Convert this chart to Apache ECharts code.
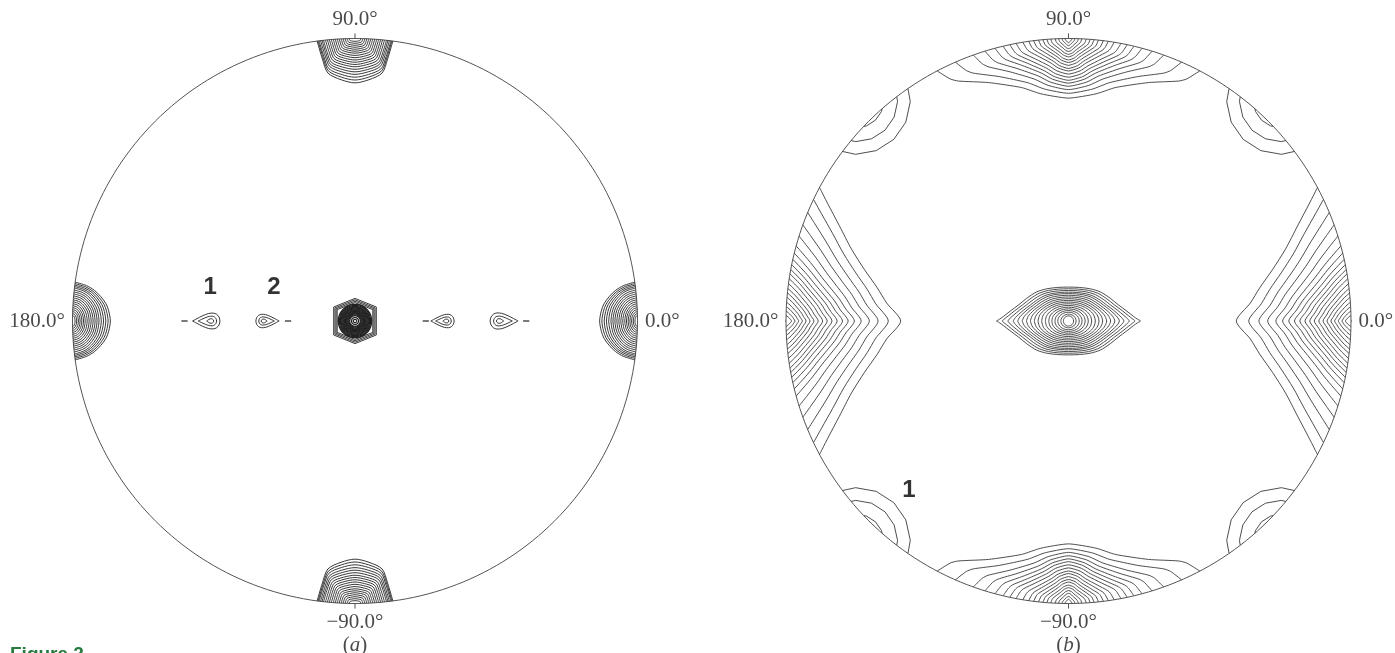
<!DOCTYPE html>
<html>
<head>
<meta charset="utf-8">
<script src="https://cdn.jsdelivr.net/npm/echarts@6/dist/echarts.min.js"></script>
<style>
html, body { margin: 0; padding: 0; background: #fff; }
#main { width: 1395px; height: 653px; }
</style>
</head>
<body>
<div id="main"></div>
<script>
// values; the projection rim is the unit circle
var rimAngles = [0, 90, 180, 270];
var rimLabels = ["0.0°", "90.0°", "180.0°", "−90.0°"];

// (a) central peak: hexagonal outer contours, then round ones
var aCentreHex = [[0.0754, 0.080], [0.071, 0.075], [0.067, 0.070], [0.063, 0.065]];
var aCentreRings = [0.059, 0.0555, 0.052, 0.049, 0.046, 0.043, 0.040, 0.037, 0.034, 0.031, 0.028, 0.025, 0.022, 0.019, 0.0125, 0.006];
var hexShape = [[1, 0.62], [0, 1], [-1, 0.62], [-1, -0.62], [0, -1], [1, -0.62]];

// (a) rim peaks at 90/-90 and 0/180: depth from rim, half angle (deg)
var aPoleDepthNS = [0.157, 0.147, 0.137, 0.127, 0.118, 0.109, 0.100, 0.092, 0.084, 0.076, 0.068, 0.060, 0.052, 0.045, 0.038, 0.031, 0.024, 0.017, 0.010];
var aPoleHalfAngleNS = [7.7, 7.5, 7.3, 7.0, 6.7, 6.4, 6.0, 5.6, 5.2, 4.8, 4.4, 4.0, 3.6, 3.2, 2.8, 2.4, 2.0, 1.6, 1.2];
var aPoleDepthEW = [0.134, 0.126, 0.118, 0.110, 0.102, 0.094, 0.087, 0.080, 0.073, 0.066, 0.059, 0.052, 0.045, 0.039, 0.033, 0.027, 0.021, 0.015, 0.009];
var aPoleHalfAngleEW = [7.9, 7.6, 7.3, 7.0, 6.7, 6.3, 5.9, 5.5, 5.1, 4.7, 4.3, 3.9, 3.5, 3.1, 2.7, 2.3, 1.9, 1.5, 1.1];
var poleShapeNS = [[0, 1], [0.43, 0.92], [0.81, 0.745], [0.92, 0.42], [1, 0]];
var poleShapeEW = [[0, 1], [0.3, 0.95], [0.5, 0.87], [0.7, 0.71], [0.85, 0.53], [0.95, 0.31], [1, 0]];

// (a) small teardrop spots on the equator
var spotX = [-0.512, -0.322, 0.322, 0.513];
var spotDir = [-1, 1, -1, 1];
var spotScale = [1, 0.85, 0.85, 1.02];
var spotLevels = [[0.063, 0.034, 0.028], [0.043, 0.022, 0.017], [0.013, 0.012, 0.008]]; // tip, back, half height
var spotShape = [[-1, 0], [-0.75, 0.3], [-0.45, 0.65], [-0.1, 0.95], [0.3, 1], [0.65, 0.85], [0.9, 0.5], [1, 0]];
var dashX = [-0.6035, -0.237, 0.2506, 0.606];
var dashHalf = 0.011;
var aMarks = [{ text: "1", x: -0.513, y: 0.12 }, { text: "2", x: -0.287, y: 0.12 }];

// (b) central eye
var bEyeHalfW = [0.255, 0.235, 0.215, 0.196, 0.180, 0.164, 0.149, 0.135, 0.121, 0.108, 0.095, 0.082, 0.070, 0.059, 0.048, 0.038, 0.027, 0.018];
var bEyeHalfH = [0.120, 0.114, 0.108, 0.102, 0.097, 0.091, 0.085, 0.079, 0.073, 0.067, 0.061, 0.055, 0.049, 0.043, 0.037, 0.031, 0.024, 0.018];
var bEyeLens = [1, 0.9, 0.8, 0.7, 0.6, 0.5, 0.4, 0.3, 0.2, 0.1, 0, 0, 0, 0, 0, 0, 0, 0];
var eyeShape = [[0, 1], [0.15, 0.99], [0.3, 0.95], [0.44, 0.86], [0.58, 0.67], [0.69, 0.48], [0.81, 0.29], [0.9, 0.14], [0.96, 0.05], [1, 0]];

// (b) rim lobes at 0/180
var bSideDepth = [0.406, 0.362, 0.326, 0.295, 0.266, 0.242, 0.220, 0.200, 0.181, 0.163, 0.146, 0.130, 0.114, 0.099, 0.085, 0.071, 0.058, 0.045, 0.032, 0.020];
var bSideHalfAngle = [28.2, 25.5, 22.6, 19.9, 17.5, 15.4, 13.9, 12.6, 11.5, 10.5, 9.6, 8.6, 7.6, 6.6, 5.7, 4.8, 3.8, 2.9, 2.0, 1.1];
var sideShape = [[0, 1], [0.2, 0.87], [0.35, 0.77], [0.5, 0.63], [0.65, 0.47], [0.8, 0.3], [0.92, 0.13], [1, 0]];

// (b) rim lobes at 90/-90
var bPoleDepth = [0.211, 0.194, 0.181, 0.169, 0.158, 0.148, 0.137, 0.126, 0.115, 0.106, 0.095, 0.085, 0.076, 0.065, 0.056, 0.046, 0.036, 0.025, 0.015];
var bPoleHalfAngle = [27.7, 23.6, 19.7, 17.2, 15.1, 13.4, 12.0, 10.7, 9.3, 8.1, 7.1, 6.1, 5.2, 4.4, 3.6, 2.7, 2.0, 1.3, 0.7];
var poleShapeB = [[0, 1], [0.25, 0.9], [0.41, 0.745], [0.67, 0.52], [0.89, 0.31], [0.94, 0.22], [1, 0]];

// (b) four diagonal peaks just outside the rim
var bCornerCentres = [[0.75, 0.78], [-0.75, 0.78], [-0.75, -0.78], [0.75, -0.78]];
var bCornerRadii = [0.19, 0.145, 0.096];
var bMarks = [{ text: "1", x: -0.565, y: -0.598 }];

// ---- geometry helpers ----
function toXY(r, deg) {
    var a = deg * Math.PI / 180;
    return [r * Math.cos(a), r * Math.sin(a)];
}

function rimLobe(centreDeg, depth, halfAngle, shape) {
    var pts = [];
    for (var i = shape.length - 1; i >= 0; i--) {
        pts.push(toXY(1 - depth * shape[i][1], centreDeg - shape[i][0] * halfAngle));
    }
    for (var j = 1; j < shape.length; j++) {
        pts.push(toXY(1 - depth * shape[j][1], centreDeg + shape[j][0] * halfAngle));
    }
    return pts;
}

function eyeContour(a, b, w) {
    var top = [], bottom = [];
    var n = eyeShape.length;
    function h(p) { return b * (w * p[1] + (1 - w) * Math.sqrt(Math.max(0, 1 - p[0] * p[0]))); }
    for (var i = n - 1; i >= 0; i--) top.push([-eyeShape[i][0] * a, h(eyeShape[i])]);
    for (var j = 1; j < n; j++) top.push([eyeShape[j][0] * a, h(eyeShape[j])]);
    for (var k = top.length - 2; k >= 0; k--) bottom.push([top[k][0], -top[k][1]]);
    return top.concat(bottom);
}

function spotContour(cx, dir, tip, back, half) {
    var top = spotShape.map(function (p) {
        var xt = p[0] < 0 ? p[0] * tip : p[0] * back;
        return [cx - dir * xt, p[1] * half];
    });
    var bottom = [];
    for (var k = top.length - 2; k >= 0; k--) bottom.push([top[k][0], -top[k][1]]);
    return top.concat(bottom);
}

function polygon(cx, cy, sx, sy, shape) {
    var pts = shape.map(function (p) { return [cx + p[0] * sx, cy + p[1] * sy]; });
    pts.push(pts[0]);
    return pts;
}

function ring(r, n) {
    var pts = [];
    for (var i = 0; i <= n; i++) pts.push(toXY(r, i * 360 / n));
    return pts;
}

function clipToDisk(pts) {
    var out = [], cur = null;
    function inside(p) { return p[0] * p[0] + p[1] * p[1] <= 1; }
    function cross(p, q) {
        var dx = q[0] - p[0], dy = q[1] - p[1];
        var A = dx * dx + dy * dy, B = 2 * (p[0] * dx + p[1] * dy), C = p[0] * p[0] + p[1] * p[1] - 1;
        var disc = Math.sqrt(Math.max(0, B * B - 4 * A * C));
        var t1 = (-B - disc) / (2 * A), t2 = (-B + disc) / (2 * A);
        var t = (t1 >= 0 && t1 <= 1) ? t1 : t2;
        return [p[0] + t * dx, p[1] + t * dy];
    }
    for (var i = 0; i < pts.length; i++) {
        var p = pts[i];
        if (i === 0) { if (inside(p)) cur = [p]; continue; }
        var prev = pts[i - 1], a = inside(prev), b = inside(p);
        if (a && b) cur.push(p);
        else if (a && !b) { cur.push(cross(prev, p)); out.push(cur); cur = null; }
        else if (!a && b) cur = [cross(prev, p), p];
    }
    if (cur) out.push(cur);
    return out;
}

function cornerPolygon(c, r) {
    var start = Math.atan2(c[1], c[0]) * 180 / Math.PI;
    var pts = [];
    for (var i = 0; i <= 16; i++) {
        var q = toXY(r, start + i * 22.5);
        pts.push([c[0] + q[0], c[1] + q[1]]);
    }
    return pts;
}

// ---- series ----
var series = [];
function addLine(g, pts, color, width, smooth) {
    series.push({
        type: "line", xAxisIndex: g, yAxisIndex: g, data: pts,
        symbol: "none", smooth: smooth || false, clip: false, silent: true,
        lineStyle: { color: color, width: width }
    });
}

var serif = "'Liberation Serif', 'DejaVu Serif', serif";
var sans = "'Liberation Sans', Arimo, Arial, sans-serif";
var rimPos = ["right", "top", "left", "bottom"];

[0, 1].forEach(function (g) {
    addLine(g, ring(1, 240), "#555", 1);
    rimAngles.forEach(function (d) { addLine(g, [toXY(1, d), toXY(1.018, d)], "#555", 1); });
    var tag = g === 0 ? "a" : "b";
    series.push({
        type: "scatter", xAxisIndex: g, yAxisIndex: g, symbolSize: 1, clip: false, silent: true,
        itemStyle: { color: "rgba(0,0,0,0)" },
        labelLayout: { hideOverlap: false },
        data: rimAngles.map(function (d, i) {
            var txt = rimLabels[i];
            if (d === 270) txt = rimLabels[i] + "\n{p|(}{i|" + tag + "}{p|)}";
            return {
                value: toXY(1.018, d),
                label: { show: true, formatter: txt, position: rimPos[i], distance: 2 }
            };
        }),
        label: {
            color: "#1a1a1a", fontFamily: serif, fontSize: 21, lineHeight: 23,
            rich: {
                p: { fontFamily: serif, fontSize: 21, lineHeight: 23, color: "#1a1a1a" },
                i: { fontFamily: serif, fontSize: 21, lineHeight: 23, fontStyle: "italic", color: "#1a1a1a" }
            }
        }
    });
    var marks = g === 0 ? aMarks : bMarks;
    series.push({
        type: "scatter", xAxisIndex: g, yAxisIndex: g, symbolSize: 1, clip: false, silent: true,
        itemStyle: { color: "rgba(0,0,0,0)" },
        data: marks.map(function (m) {
            return { value: [m.x, m.y], label: { show: true, formatter: m.text, position: "inside" } };
        }),
        label: { color: "#000", fontFamily: sans, fontWeight: "bold", fontSize: 24 }
    });
});

// panel (a)
var colA = "#222";
aCentreHex.forEach(function (s) { addLine(0, polygon(0, 0, s[0], s[1], hexShape), colA, 0.9); });
aCentreRings.forEach(function (r) { addLine(0, ring(r, 24), colA, 1.3, 0.3); });
[90, 270].forEach(function (d) {
    aPoleDepthNS.forEach(function (dep, i) { addLine(0, rimLobe(d, dep, aPoleHalfAngleNS[i], poleShapeNS), colA, 0.9, 0.3); });
});
[0, 180].forEach(function (d) {
    aPoleDepthEW.forEach(function (dep, i) { addLine(0, rimLobe(d, dep, aPoleHalfAngleEW[i], poleShapeEW), colA, 0.9, 0.3); });
});
spotX.forEach(function (cx, s) {
    spotLevels.forEach(function (lv) {
        var k = spotScale[s];
        addLine(0, spotContour(cx, spotDir[s], lv[0] * k, lv[1] * k, lv[2] * k), colA, 0.9, 0.3);
    });
    addLine(0, [[dashX[s] - dashHalf, 0], [dashX[s] + dashHalf, 0]], colA, 1.2);
});

// panel (b)
var colB = "#3a3a3a";
bEyeHalfW.forEach(function (a, i) { addLine(1, eyeContour(a, bEyeHalfH[i], bEyeLens[i]), colB, 0.9, 0.3); });
[0, 180].forEach(function (d) {
    bSideDepth.forEach(function (dep, i) { addLine(1, rimLobe(d, dep, bSideHalfAngle[i], sideShape), colB, 0.9, 0.25); });
});
[90, 270].forEach(function (d) {
    bPoleDepth.forEach(function (dep, i) { addLine(1, rimLobe(d, dep, bPoleHalfAngle[i], poleShapeB), colB, 0.9, 0.2); });
});
bCornerCentres.forEach(function (c) {
    bCornerRadii.forEach(function (r) {
        clipToDisk(cornerPolygon(c, r)).forEach(function (piece) { addLine(1, piece, colB, 0.9); });
    });
});

var chart = echarts.init(document.getElementById("main"), null, { renderer: "canvas" });
var axisX = function (g) { return { gridIndex: g, type: "value", min: -1, max: 1, show: false }; };
chart.setOption({
    animation: false,
    backgroundColor: "#fff",
    grid: [
        { left: 72.5, top: 38.5, width: 565, height: 565 },
        { left: 786, top: 38.5, width: 565, height: 565 }
    ],
    xAxis: [axisX(0), axisX(1)],
    yAxis: [axisX(0), axisX(1)],
    graphic: [{
        type: "text", left: 10, top: 645, silent: true,
        style: { text: "Figure 2", fill: "#257a3e", font: "bold 19px " + sans }
    }],
    series: series
});
</script>
</body>
</html>
